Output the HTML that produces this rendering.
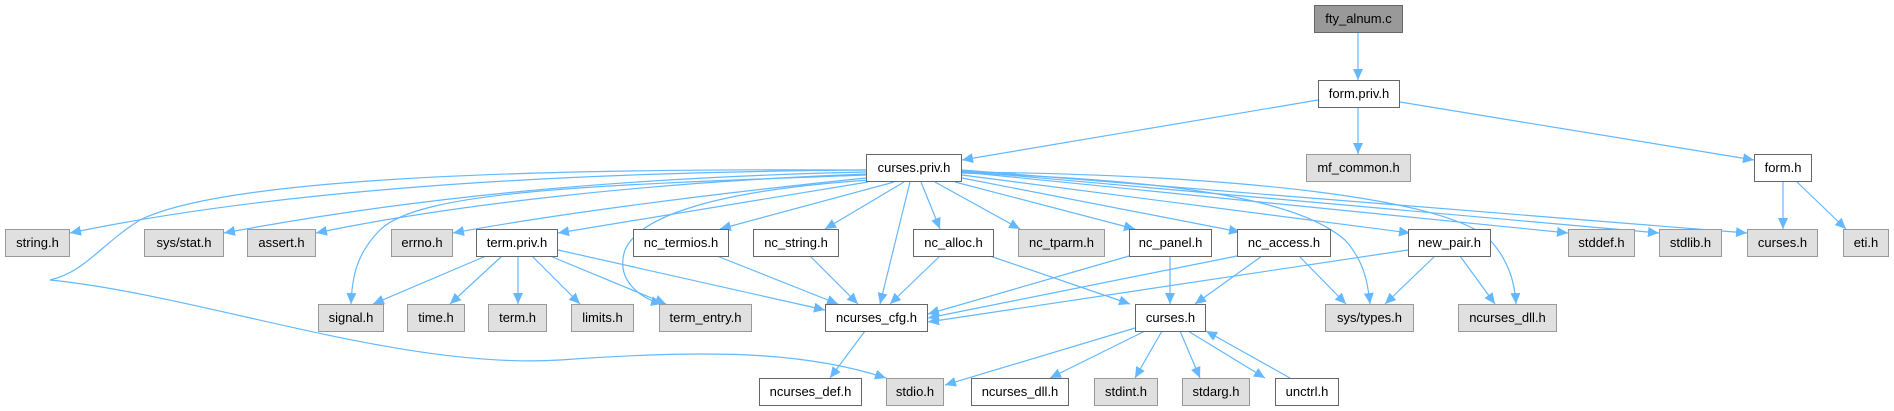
<!DOCTYPE html><html><head><style>
body{margin:0;background:#fff;width:1894px;height:411px;overflow:hidden;position:relative;font-family:"Liberation Sans",sans-serif}
.n{position:absolute;box-sizing:border-box;height:28px;border:1px solid #666;background:#fff;font-size:13px;line-height:26px;text-align:center;white-space:nowrap;color:#000}
.g{background:#e0e0e0;border-color:#999}
.d{background:#999;border-color:#666}
svg{position:absolute;left:0;top:0}
</style></head><body>
<svg width="1894" height="411"><defs><marker id="a" markerUnits="userSpaceOnUse" markerWidth="12" markerHeight="10" refX="11" refY="5" orient="auto"><path d="M0,0L11,5L0,10z" fill="#63b8ff"/></marker></defs>
<g fill="none" stroke="#63b8ff" stroke-width="1.2" marker-end="url(#a)">
<path d="M1358,32L1358,80"/><path d="M1318,100L962,160"/><path d="M1358,107L1358,154"/><path d="M1400,102L1754,160"/>
<path d="M1783,182L1783,229"/><path d="M1797,182L1846,229"/>
<path d="M866,170C600,172 300,185 70,233"/>
<path d="M866,172C600,178 400,200 224,233"/>
<path d="M866,174C650,182 450,205 316,233"/>
<path d="M866,175C600,185 420,190 380,230C355,255 352,280 351,304"/>
<path d="M866,178C700,195 550,215 453,233"/>
<path d="M868,182L558,233"/>
<path d="M870,180C720,190 640,215 625,250C615,280 640,298 662,304"/>
<path d="M866,170C500,168 220,180 140,220C100,245 85,272 50,280C200,295 400,370 560,360C700,350 800,350 886,378"/>
<path d="M894,182L720,229"/><path d="M904,182L825,229"/><path d="M910,182L880,304"/>
<path d="M921,182L940,229"/><path d="M935,182L1020,229"/><path d="M955,182L1135,229"/>
<path d="M962,178L1240,232"/><path d="M962,175L1410,233"/>
<path d="M962,173C1180,180 1300,200 1345,240C1365,262 1368,285 1370,304"/>
<path d="M962,172C1250,175 1450,200 1490,240C1510,262 1515,285 1516,304"/>
<path d="M962,172L1568,233"/><path d="M962,171L1659,233"/><path d="M962,170L1747,233"/>
<path d="M486,256L373,304"/><path d="M502,256L450,304"/><path d="M518,256L518,304"/><path d="M532,256L580,304"/><path d="M550,256L666,304"/><path d="M558,250L825,310"/>
<path d="M717,256L838,304"/><path d="M810,256L858,304"/>
<path d="M940,256L890,304"/><path d="M990,256L1130,304"/>
<path d="M1129,256L928,314"/><path d="M1170,256L1170,304"/>
<path d="M1237,256L928,318"/><path d="M1262,256L1195,304"/><path d="M1299,256L1346,304"/>
<path d="M1408,250L928,322"/><path d="M1435,256L1385,304"/><path d="M1460,256L1495,304"/>
<path d="M865,331L830,378"/>
<path d="M1135,328L945,385"/><path d="M1145,331L1050,378"/><path d="M1162,331L1135,378"/><path d="M1180,331L1200,378"/><path d="M1188,331L1265,378"/><path d="M1290,378L1206,331"/>
</g></svg>
<div class="n d" style="left:1314px;top:5px;width:89px">fty_alnum.c</div>
<div class="n" style="left:1318px;top:80px;width:82px">form.priv.h</div>
<div class="n" style="left:866px;top:154px;width:96px">curses.priv.h</div>
<div class="n g" style="left:1306px;top:154px;width:105px">mf_common.h</div>
<div class="n" style="left:1754px;top:154px;width:58px">form.h</div>
<div class="n g" style="left:5px;top:229px;width:65px">string.h</div>
<div class="n g" style="left:144px;top:229px;width:80px">sys/stat.h</div>
<div class="n g" style="left:247px;top:229px;width:69px">assert.h</div>
<div class="n g" style="left:391px;top:229px;width:62px">errno.h</div>
<div class="n" style="left:476px;top:229px;width:82px">term.priv.h</div>
<div class="n" style="left:633px;top:229px;width:96px">nc_termios.h</div>
<div class="n" style="left:753px;top:229px;width:86px">nc_string.h</div>
<div class="n" style="left:913px;top:229px;width:81px">nc_alloc.h</div>
<div class="n g" style="left:1018px;top:229px;width:87px">nc_tparm.h</div>
<div class="n" style="left:1129px;top:229px;width:83px">nc_panel.h</div>
<div class="n" style="left:1237px;top:229px;width:94px">nc_access.h</div>
<div class="n" style="left:1408px;top:229px;width:83px">new_pair.h</div>
<div class="n g" style="left:1568px;top:229px;width:67px">stddef.h</div>
<div class="n g" style="left:1659px;top:229px;width:63px">stdlib.h</div>
<div class="n g" style="left:1747px;top:229px;width:71px">curses.h</div>
<div class="n g" style="left:1843px;top:229px;width:46px">eti.h</div>
<div class="n g" style="left:318px;top:304px;width:66px">signal.h</div>
<div class="n g" style="left:407px;top:304px;width:58px">time.h</div>
<div class="n g" style="left:488px;top:304px;width:59px">term.h</div>
<div class="n g" style="left:571px;top:304px;width:63px">limits.h</div>
<div class="n g" style="left:659px;top:304px;width:93px">term_entry.h</div>
<div class="n" style="left:825px;top:304px;width:103px">ncurses_cfg.h</div>
<div class="n" style="left:1135px;top:304px;width:71px">curses.h</div>
<div class="n g" style="left:1325px;top:304px;width:89px">sys/types.h</div>
<div class="n g" style="left:1458px;top:304px;width:99px">ncurses_dll.h</div>
<div class="n" style="left:759px;top:378px;width:103px">ncurses_def.h</div>
<div class="n g" style="left:886px;top:378px;width:58px">stdio.h</div>
<div class="n" style="left:971px;top:378px;width:98px">ncurses_dll.h</div>
<div class="n g" style="left:1094px;top:378px;width:64px">stdint.h</div>
<div class="n g" style="left:1182px;top:378px;width:68px">stdarg.h</div>
<div class="n" style="left:1275px;top:378px;width:64px">unctrl.h</div>
</body></html>
